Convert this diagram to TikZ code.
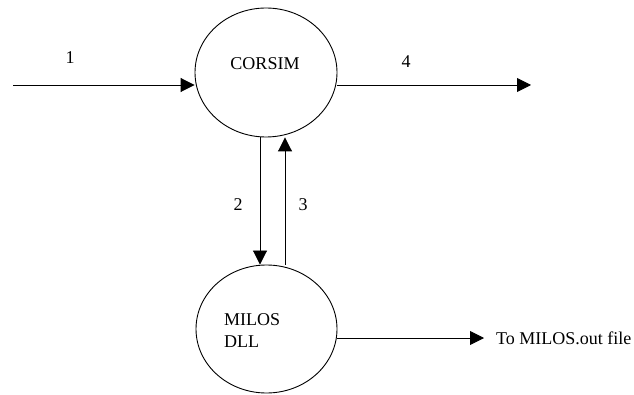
\documentclass[tikz,border=0pt]{standalone}
\usepackage{fontspec}
\setmainfont{Liberation Serif}
\usetikzlibrary{shapes.geometric,arrows.meta}
\begin{document}
\begin{tikzpicture}[x=1pt,y=-1pt,
  proc/.style={draw,ellipse,line width=0.9pt,inner sep=0pt},
  flow/.style={line width=0.9pt,-{Triangle[length=14pt,width=14pt]}},
  lbl/.style={font=\fontsize{18}{21}\selectfont,inner sep=0pt}]
\useasboundingbox (0,0) rectangle (634,395);
\node[proc,minimum width=142pt,minimum height=129pt] (corsim) at (266,72.5) {};
\node[lbl] (ct) at (265,64) {CORSIM};
\node[proc,minimum width=141pt,minimum height=128pt] (milos) at (266.5,329) {};
\node[lbl,align=left,anchor=north west] (mt) at (224,313) {MILOS\\[1pt]DLL};
\coordinate (in) at (13,85);
\coordinate (out) at (531,85);
\coordinate (fileend) at (484,338);
\node[lbl,anchor=west] (file) at (496,338) {To MILOS.out file};
\draw[flow] (in) -- (in -| corsim.west);
\draw[flow] (out -| corsim.east) -- (out);
\draw[flow] (corsim.south -| 260,0) -- (milos.north -| 260,0);
\draw[flow] (milos.north -| 285,0) -- (corsim.south -| 285,0);
\draw[flow] (fileend -| milos.east) -- (fileend);
\node[lbl] (l1) at (70,58) {1};
\node[lbl] (l4) at (406,62) {4};
\node[lbl] (l2) at (238,205) {2};
\node[lbl] (l3) at (303,205) {3};
\end{tikzpicture}
\end{document}
